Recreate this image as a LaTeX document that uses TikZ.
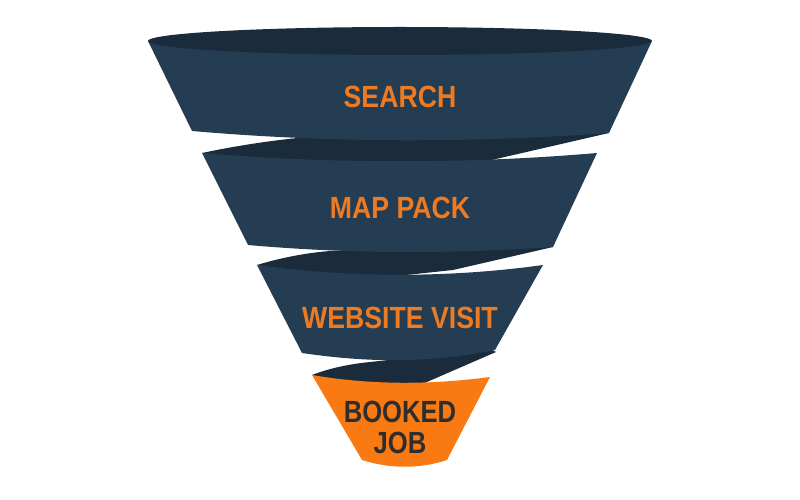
\documentclass[tikz,border=0pt]{standalone}
\usepackage{fontspec}
\usepackage{tikz}
\usetikzlibrary{calc}
\newfontfamily\funnelfont{Liberation Sans}
\definecolor{mat}{HTML}{253D53}
\definecolor{sau}{HTML}{1A2B3C}
\definecolor{cam}{HTML}{F97A12}
\definecolor{chucam}{HTML}{EE7A22}
\definecolor{chuden}{HTML}{2E2E2E}
\newcommand{\fillmat}{\fill[color=mat]}
\newcommand{\fillsau}{\fill[color=sau]}

\begin{document}
\begin{tikzpicture}[x=0.25mm, y=-0.25mm,
  stagetxt/.style={font=\funnelfont\bfseries\fontsize{21.8}{22}\selectfont, text=chucam, xscale=0.87, align=center}]
\useasboundingbox (0,0) rectangle (800,500);
%\draw[color=blue] (0,0) grid[step=50] (800,500); %Tạo lưới

% Vẽ tầng 4 (cam)
\fillsau (312,375) .. controls (330,368) and (350,364) .. (370,362) -- (490,349) -- (496,352) -- (420,385) -- (360,392) -- cycle;
\fill[color=cam] (312,375) -- (362,460) .. controls (390,469) and (420,469) .. (447,460) -- (490,377) .. controls (430,385) and (370,385) .. (312,375) -- cycle;
\node[stagetxt, text=chuden, xscale=0.96] (booked) at (400,427.5) {BOOKED\\JOB};

% Vẽ tầng 3
\fillsau (257,265) .. controls (280,258) and (305,253) .. (330,251) -- (545,244) -- (553,247) -- (453,270) -- (340,282) -- cycle;
\fillmat (257,265) -- (302,353) .. controls (370,363) and (430,363) .. (495,350) -- (543,265) .. controls (450,278) and (350,278) .. (257,265) -- cycle;
\node[stagetxt] (website) at (400,318) {WEBSITE VISIT};

% Vẽ tầng 2
\fillsau (202,153) .. controls (240,145) and (280,139) .. (320,136) -- (600,128) -- (609,133) -- (483,162) -- (300,175) -- cycle;
\fillmat (202,153) -- (248,245) .. controls (350,254) and (450,254) .. (553,247) -- (597,153) .. controls (470,164) and (330,164) .. (202,153) -- cycle;
\node[stagetxt] (mappack) at (400,208) {MAP PACK};

% Vẽ tầng 1 (miệng phễu)
\fillmat (148,41) -- (192,131) .. controls (330,143) and (470,143) .. (609,133) -- (652,41) -- cycle;
\fillsau (400,41) ellipse [x radius=63mm, y radius=3.5mm];
\node[stagetxt] (search) at (400,97) {SEARCH};

\end{tikzpicture}
\end{document}
